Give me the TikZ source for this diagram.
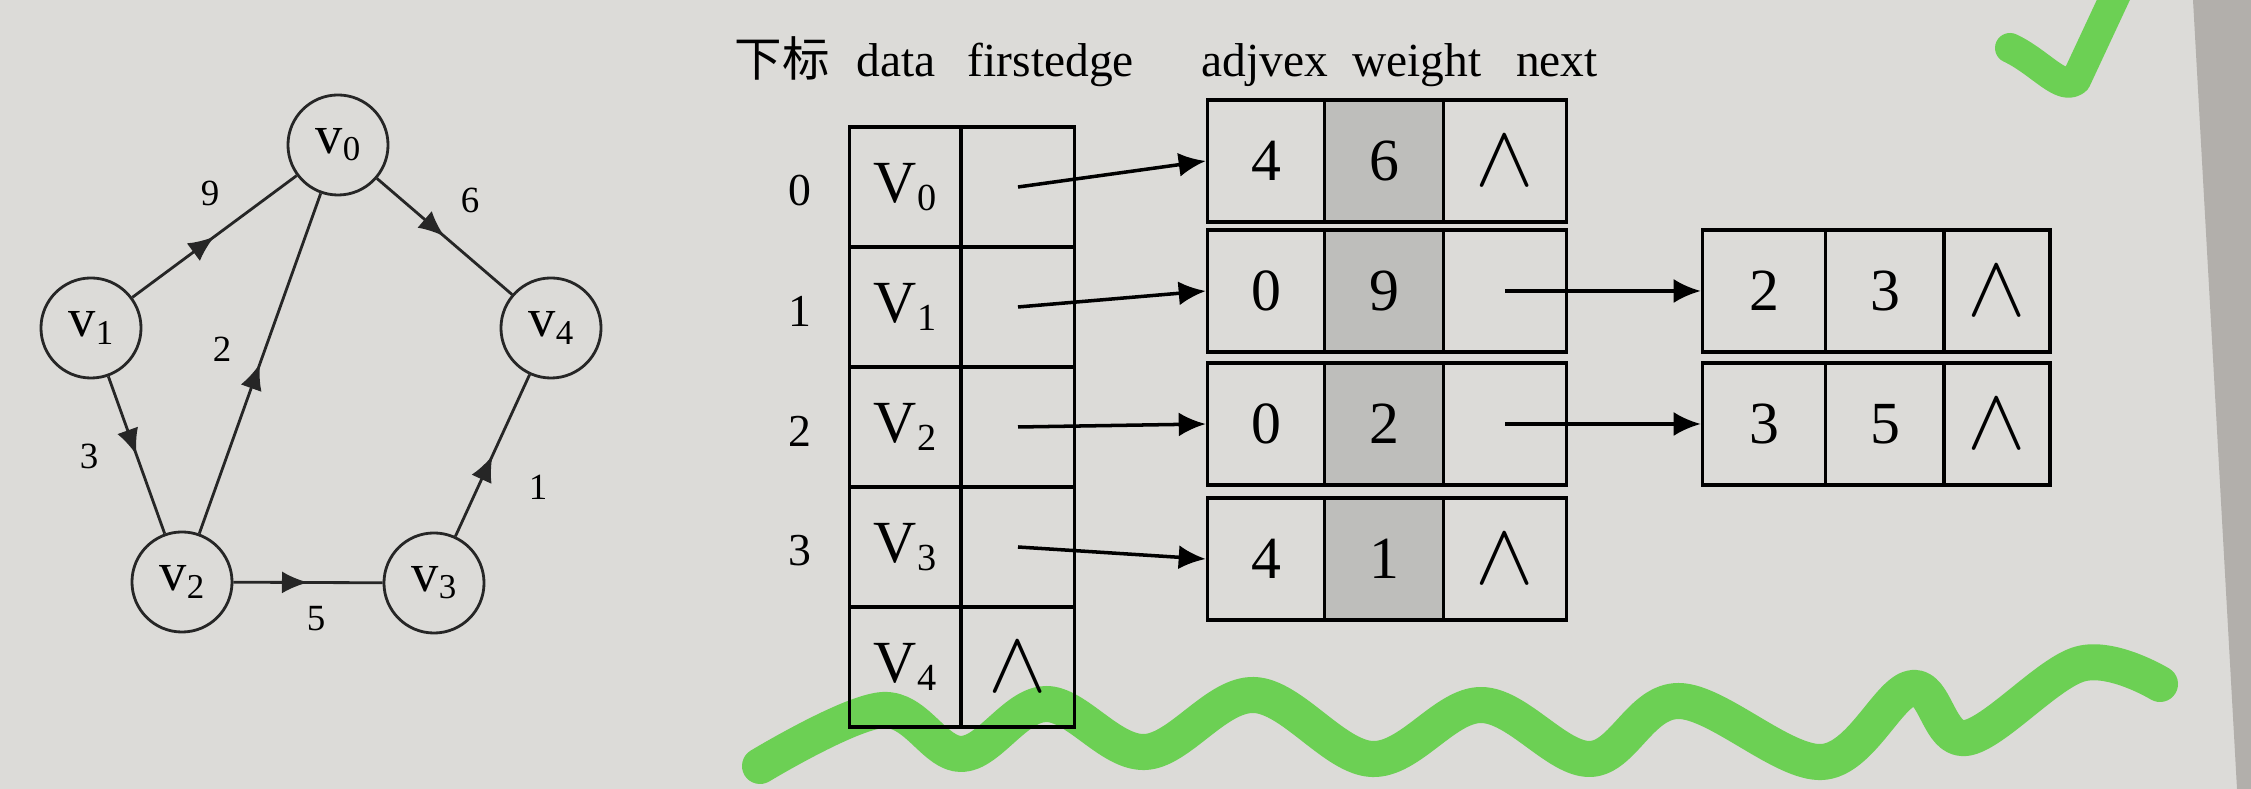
\documentclass[tikz,border=0pt]{standalone}
\usepackage{fontspec}
\setmainfont{Liberation Serif}
\newfontfamily\cjk{Noto Sans CJK SC}
\usepackage{graphicx}
\usetikzlibrary{arrows.meta,decorations.markings}

\definecolor{paper}{RGB}{220,219,216}
\definecolor{pageedge}{RGB}{178,175,171}
\definecolor{shade}{RGB}{190,190,187}
\definecolor{marker}{RGB}{108,208,84}

\newcommand{\vtx}[2]{#1\raisebox{-0.13em}{\scalebox{0.64}{#2}}}
\newcommand{\emptyptr}{\fontsize{23}{23}\selectfont$\wedge$}

\tikzset{
  vnode/.style={draw=black!85,circle,line width=0.8pt,minimum size=1cm,inner sep=0pt,
    font=\fontsize{15.5}{15.5}\selectfont},
  wt/.style={inner sep=0pt,font=\fontsize{10.5}{10.5}\selectfont},
  midarrow/.style={postaction={decorate},decoration={markings,
    mark=at position 0.5 with {\arrow{Latex[length=0.26cm,width=0.22cm]}}}},
  gedge/.style={draw=black!85,line width=0.8pt,midarrow},
  head/.style={anchor=base,inner sep=0pt,font=\fontsize{13.5}{13.5}\selectfont},
  idx/.style={inner sep=0pt,font=\fontsize{13}{13}\selectfont},
  cell/.style={draw,line width=1pt,inner sep=0pt,font=\fontsize{17}{17}\selectfont},
  vcell/.style={cell,minimum height=1.2cm},
  ecell/.style={cell,minimum height=1.22cm},
  ptr/.style={-{Latex[length=0.27cm,width=0.24cm]},line width=1pt}
}

\begin{document}
\begin{tikzpicture}[x=0.01cm,y=-0.01cm]
\fill[paper] (0,0) rectangle (2251,789);
\fill[pageedge] (2193,0) -- (2237,789) -- (2251,789) -- (2251,0) -- cycle;
\useasboundingbox (0,0) rectangle (2251,789);

% marker strokes
\draw[marker,line width=0.3cm,line cap=round,line join=round]
  (2010,48) .. controls (2040,62) and (2062,92) .. (2076,80) -- (2118,-10);
\draw[marker,line width=0.36cm,line cap=round,line join=round]
  plot[smooth,tension=0.6] coordinates {(760,766) (883,710) (962,754) (1046,704)
  (1145,752) (1254,695) (1372,759) (1481,705) (1590,759) (1679,701) (1822,762)
  (1912,688) (1966,738) (2080,664) (2160,684)};

% graph
\node[vnode] (v0) at (338,145) {\vtx{v}{0}};
\node[vnode] (v1) at (91,328) {\vtx{v}{1}};
\node[vnode] (v4) at (551,328) {\vtx{v}{4}};
\node[vnode] (v2) at (182,582) {\vtx{v}{2}};
\node[vnode] (v3) at (434,583) {\vtx{v}{3}};

\draw[gedge] (v1) -- (v0);
\draw[gedge] (v0) -- (v4);
\draw[gedge] (v1) -- (v2);
\draw[gedge] (v2) -- (v0);
\draw[gedge] (v2) -- (v3);
\draw[gedge] (v3) -- (v4);

\node[wt] (w10) at (210,193) {9};
\node[wt] (w04) at (470,200) {6};
\node[wt] (w20) at (222,349) {2};
\node[wt] (w12) at (89,456) {3};
\node[wt] (w23) at (316,619) {5};
\node[wt] (w34) at (538,487) {1};

% headers
\node[head] (hidx) at (782,77) {\cjk 下标};
\node[head] (hdata) at (896,77) {data};
\node[head] (hfirst) at (1051,77) {firstedge};
\node[head] (hadj) at (1265,77) {adjvex};
\node[head] (hwt) at (1417,77) {weight};
\node[head] (hnext) at (1557,77) {next};

% vertex table
\foreach \i in {0,...,3} {
  \node[idx] (i\i) at (800,{191+120*\i}) {\i};
  \node[vcell,minimum width=1.11cm] (d\i) at (905,{187+120*\i}) {\vtx{V}{\i}};
  \node[vcell,minimum width=1.13cm] (f\i) at (1018,{187+120*\i}) {};
}
\node[vcell,minimum width=1.11cm] (d4) at (905,667) {\vtx{V}{4}};
\node[vcell,minimum width=1.13cm] (f4) at (1018,667) {\emptyptr};

% edge nodes
\node[ecell,minimum width=1.17cm] (a0) at (1266,161) {4};
\node[ecell,minimum width=1.19cm,fill=shade] (b0) at (1384,161) {6};
\node[ecell,minimum width=1.23cm] (n0) at (1505,161) {\emptyptr};

\node[ecell,minimum width=1.17cm] (a1) at (1266,291) {0};
\node[ecell,minimum width=1.19cm,fill=shade] (b1) at (1384,291) {9};
\node[ecell,minimum width=1.23cm] (n1) at (1505,291) {};

\node[ecell,minimum width=1.17cm] (a2) at (1266,424) {0};
\node[ecell,minimum width=1.19cm,fill=shade] (b2) at (1384,424) {2};
\node[ecell,minimum width=1.23cm] (n2) at (1505,424) {};

\node[ecell,minimum width=1.17cm] (a3) at (1266,559) {4};
\node[ecell,minimum width=1.19cm,fill=shade] (b3) at (1384,559) {1};
\node[ecell,minimum width=1.23cm] (n3) at (1505,559) {\emptyptr};

\node[ecell,minimum width=1.23cm] (p1) at (1764,291) {2};
\node[ecell,minimum width=1.19cm] (q1) at (1885,291) {3};
\node[ecell,minimum width=1.06cm] (s1) at (1997,291) {\emptyptr};

\node[ecell,minimum width=1.23cm] (p2) at (1764,424) {3};
\node[ecell,minimum width=1.19cm] (q2) at (1885,424) {5};
\node[ecell,minimum width=1.06cm] (s2) at (1997,424) {\emptyptr};

% pointers
\draw[ptr] (f0.center) -- (a0.west);
\draw[ptr] (f1.center) -- (a1.west);
\draw[ptr] (f2.center) -- (a2.west);
\draw[ptr] (f3.center) -- (a3.west);
\draw[ptr] (n1.center) -- (p1.west);
\draw[ptr] (n2.center) -- (p2.west);
\end{tikzpicture}
\end{document}
